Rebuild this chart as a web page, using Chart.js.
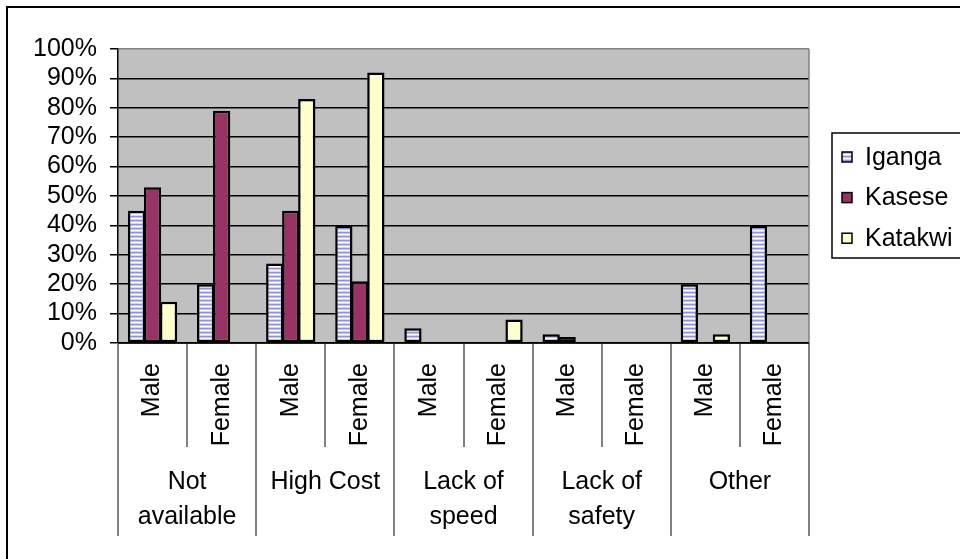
<!DOCTYPE html>
<html>
<head>
<meta charset="utf-8">
<style>
  html, body { margin: 0; padding: 0; background: #ffffff; }
  #wrap { width: 960px; height: 559px; position: relative; }
</style>
<script src="https://cdn.jsdelivr.net/npm/chart.js@4/dist/chart.umd.min.js"></script>
</head>
<body>
<div id="wrap"><canvas id="chart" width="960" height="559"></canvas></div>
<script>
// Reasons given, split by gender within each reason group
const groups = [['Not', 'available'], ['High Cost'], ['Lack of', 'speed'], ['Lack of', 'safety'], ['Other']];
const genders = ['Male', 'Female'];

// Share of respondents (%) per district, in category order
const iganga  = [45, 20, 27, 40, 5, 0, 3, 0, 20, 40];
const kasese  = [53, 79, 45, 21, 0, 0, 2, 0, 0, 0];
const katakwi = [14, 0, 83, 92, 0, 8, 0, 0, 3, 0];

const yTicks = [0, 10, 20, 30, 40, 50, 60, 70, 80, 90, 100];

const categories = [];
groups.forEach(g => genders.forEach(s => categories.push(s + ' / ' + g.join(' '))));

const FONT = '"Liberation Sans", Arial, sans-serif';
const FONT_SIZE = 25;

// Horizontal blue/white stripe fill used for Iganga
function stripePattern(ctx) {
  const c = document.createElement('canvas');
  c.width = 4; c.height = 4;
  const p = c.getContext('2d');
  const rows = ['#8c8cff', '#c4c4ff', '#ffffff', '#d4d4ff'];
  rows.forEach((col, i) => { p.fillStyle = col; p.fillRect(0, i, 4, 1); });
  return ctx.createPattern(c, 'repeat');
}

const canvas = document.getElementById('chart');
const ctx2d = canvas.getContext('2d');
const stripes = stripePattern(ctx2d);

const plotFrame = {
  id: 'plotFrame',
  beforeDraw(chart) {
    const { ctx, chartArea: a } = chart;
    ctx.save();
    ctx.fillStyle = '#ffffff';
    ctx.fillRect(0, 0, chart.width, chart.height);
    ctx.fillStyle = '#c0c0c0';
    ctx.fillRect(a.left, a.top, a.right - a.left, a.bottom - a.top);
    ctx.restore();
  },
  afterDraw(chart) {
    const { ctx, chartArea: a } = chart;
    const x = chart.scales.x;
    ctx.save();

    // right edge of the plot area
    ctx.strokeStyle = '#808080';
    ctx.lineWidth = 1.5;
    ctx.beginPath();
    ctx.moveTo(a.right, a.top);
    ctx.lineTo(a.right, a.bottom);
    ctx.stroke();

    // category separators below the axis
    const n = categories.length;
    const bound = k => {
      if (k === 0) return a.left;
      if (k === n) return a.right;
      return (x.getPixelForValue(k - 1) + x.getPixelForValue(k)) / 2;
    };
    ctx.strokeStyle = '#808080';
    ctx.lineWidth = 2;
    for (let k = 0; k <= n; k++) {
      const px = Math.round(bound(k));
      const bottom = (k % 2 === 0) ? 536 : 447;
      ctx.beginPath();
      ctx.moveTo(px, a.bottom);
      ctx.lineTo(px, bottom);
      ctx.stroke();
    }

    // x axis baseline
    ctx.strokeStyle = '#000000';
    ctx.lineWidth = 1.5;
    ctx.beginPath();
    ctx.moveTo(a.left, a.bottom);
    ctx.lineTo(a.right, a.bottom);
    ctx.stroke();

    ctx.fillStyle = '#000000';
    ctx.font = FONT_SIZE + 'px ' + FONT;

    // rotated gender labels
    for (let i = 0; i < n; i++) {
      const cx = x.getPixelForValue(i);
      ctx.save();
      ctx.translate(cx, 363);
      ctx.rotate(-Math.PI / 2);
      ctx.textAlign = 'right';
      ctx.textBaseline = 'middle';
      ctx.fillText(genders[i % 2], 0, 0);
      ctx.restore();
    }

    // group labels
    ctx.textAlign = 'center';
    ctx.textBaseline = 'middle';
    groups.forEach((lines, gi) => {
      const cx = (bound(gi * 2) + bound(gi * 2 + 2)) / 2;
      lines.forEach((t, li) => ctx.fillText(t, cx, 482 + li * 35));
    });

    // legend
    const lx = 832, ly = 133, lw = 140, lh = 125;
    ctx.strokeStyle = '#000000';
    ctx.lineWidth = 1.5;
    ctx.strokeRect(lx, ly, lw, lh);
    ctx.textAlign = 'left';
    chart.data.datasets.forEach((ds, i) => {
      const cy = 157 + i * 40.6;
      ctx.fillStyle = ds.backgroundColor;
      ctx.fillRect(842, cy - 5, 10, 10);
      ctx.strokeStyle = '#000000';
      ctx.lineWidth = 1.5;
      ctx.strokeRect(842, cy - 5, 10, 10);
      ctx.fillStyle = '#000000';
      ctx.fillText(ds.label, 865, cy + 1);
    });

    // outer chart frame
    ctx.strokeStyle = '#000000';
    ctx.lineWidth = 2;
    ctx.beginPath();
    ctx.moveTo(7, chart.height + 2);
    ctx.lineTo(7, 7);
    ctx.lineTo(chart.width + 2, 7);
    ctx.stroke();

    ctx.restore();
  }
};

// adjacent bars in a group share their black edge
const barStyle = { borderColor: '#000000', borderWidth: 2.5, borderSkipped: false,
                   categoryPercentage: 0.695, barPercentage: 1.08 };

new Chart(ctx2d, {
  type: 'bar',
  data: {
    labels: categories,
    datasets: [
      Object.assign({ label: 'Iganga', data: iganga, backgroundColor: stripes }, barStyle),
      Object.assign({ label: 'Kasese', data: kasese, backgroundColor: '#993366' }, barStyle),
      Object.assign({ label: 'Katakwi', data: katakwi, backgroundColor: '#ffffcc' }, barStyle)
    ]
  },
  options: {
    responsive: false,
    animation: false,
    devicePixelRatio: 1,
    layout: { padding: { left: 0, right: 151, top: 49, bottom: 0 } },
    plugins: { legend: { display: false }, tooltip: { enabled: false }, title: { display: false } },
    scales: {
      x: {
        offset: true,
        grid: { display: false },
        border: { display: false },
        ticks: { display: false },
        afterFit(s) { s.height = 216; }
      },
      y: {
        min: 0, max: 100,
        afterBuildTicks(s) { s.ticks = yTicks.map(v => ({ value: v })); },
        afterFit(s) { s.width = 118; },
        border: { display: true, color: '#000000', width: 1.5 },
        grid: {
          color: c => (c.tick && c.tick.value === 100) ? '#808080' : '#000000',
          tickColor: '#000000',
          lineWidth: 1.5,
          tickLength: 8,
          drawTicks: true
        },
        ticks: {
          color: '#000000',
          padding: 13,
          autoSkip: false,
          font: { family: FONT, size: FONT_SIZE },
          callback: v => v + '%'
        }
      }
    }
  },
  plugins: [plotFrame]
});
</script>
</body>
</html>
